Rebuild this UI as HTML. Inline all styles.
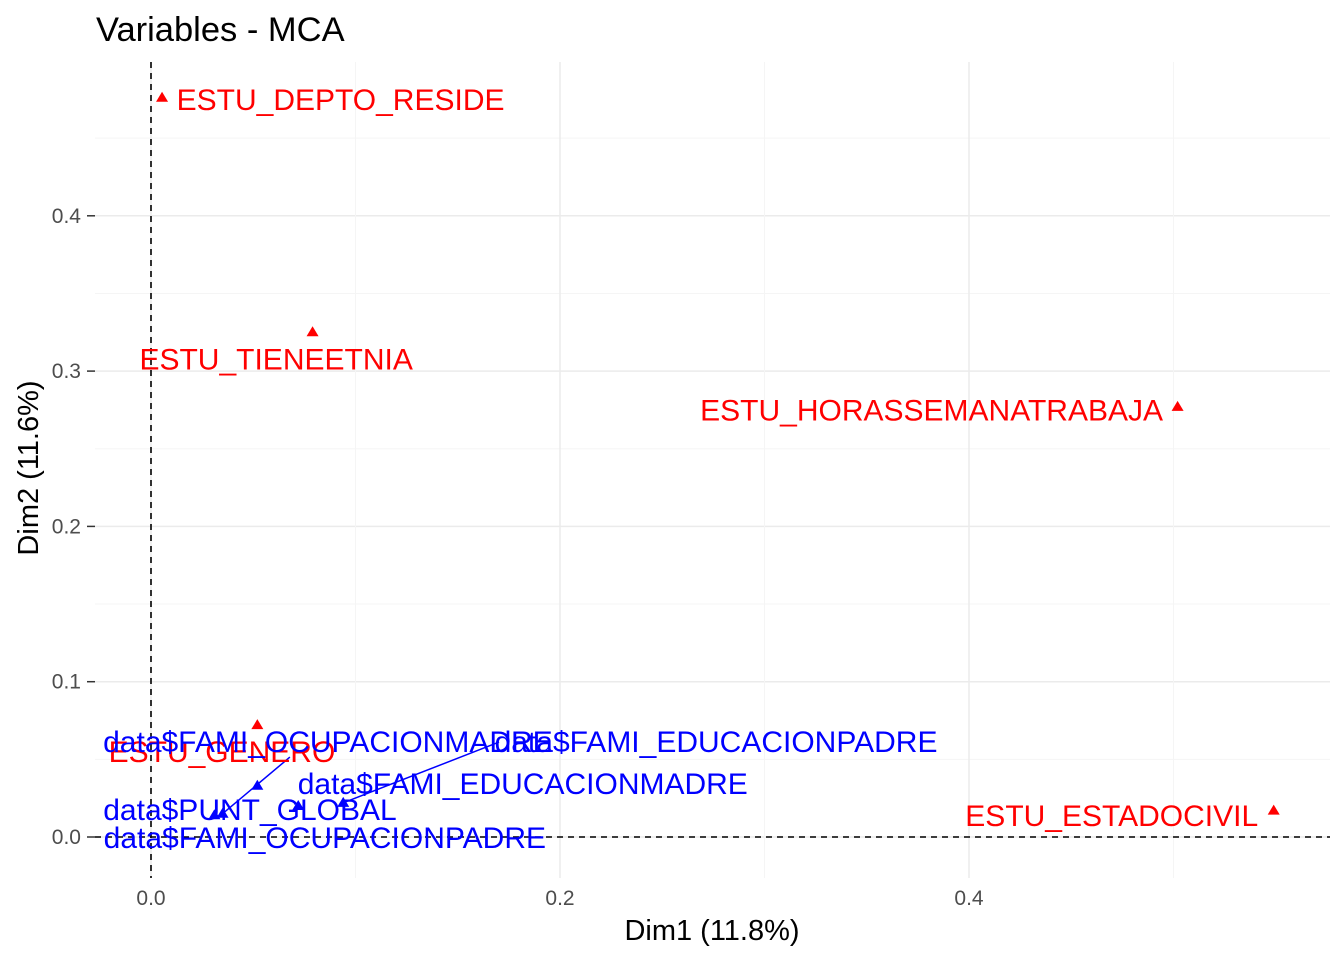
<!DOCTYPE html>
<html><head><meta charset="utf-8"><style>
body{margin:0;background:#fff;}
svg text{font-family:"Liberation Sans",Arial,sans-serif;}
</style></head><body>
<svg id="chart" width="1344" height="960" xmlns="http://www.w3.org/2000/svg">
<text x="96" y="41" font-size="34.5" fill="#000">Variables - MCA</text>
<g id="grid"></g>
<g id="marks"></g>
<text x="712" y="940" font-size="29" text-anchor="middle" fill="#000">Dim1 (11.8%)</text>
<text transform="translate(38,468) rotate(-90)" font-size="29" text-anchor="middle" fill="#000">Dim2 (11.6%)</text>
</svg>
<script>
const names=["ESTU_DEPTO_RESIDE","ESTU_TIENEETNIA","ESTU_HORASSEMANATRABAJA","ESTU_ESTADOCIVIL","ESTU_GENERO","data$FAMI_OCUPACIONMADRE","data$FAMI_EDUCACIONPADRE","data$FAMI_EDUCACIONMADRE","data$PUNT_GLOBAL","data$FAMI_OCUPACIONPADRE"];
const dim1=[0.0054,0.079,0.502,0.549,0.052,0.052,0.072,0.094,0.035,0.031];
const dim2=[0.476,0.325,0.277,0.017,0.072,0.033,0.020,0.022,0.015,0.014];
const groups=["sup","sup","sup","sup","sup","supq","supq","supq","supq","supq"];
// label positions (data units) after repel
const labX=[0.0927,0.0612,0.3817,0.4698,0.0347,0.0865,0.2763,0.1818,0.0484,0.0850];
const labY=[0.4745,0.3075,0.2746,0.0135,0.0547,0.0611,0.0611,0.0341,0.0173,-0.0007];
const xTicks=[0,0.2,0.4];
const yTicks=[0,0.1,0.2,0.3,0.4];
const X=v=>151+v*2045, Y=v=>837-v*1553;
const NS="http://www.w3.org/2000/svg";
function mk(tag,attrs,parent){const e=document.createElementNS(NS,tag);for(const k in attrs)e.setAttribute(k,attrs[k]);parent.appendChild(e);return e;}
const grid=document.getElementById('grid'),marks=document.getElementById('marks');
const L=95,R=1330,T=62,B=878;
for(let v=-0.05;v<=0.5;v+=0.05){const y=Y(v);if(y<T||y>B)continue;const major=Math.abs(Math.round(v*10)-v*10)<1e-6;
 const g=mk('line',{x1:L,x2:R,y1:y,y2:y,stroke:major?'#ebebeb':'#f5f5f5','stroke-width':major?1.5:1},grid);
 }
for(let v=-0.1;v<=0.6;v+=0.1){const x=X(v);if(x<L||x>R)continue;const major=Math.abs(Math.round(v*5)-v*5)<1e-6;
 const g=mk('line',{x1:x,x2:x,y1:T,y2:B,stroke:major?'#ebebeb':'#f5f5f5','stroke-width':major?1.5:1},grid);
 }
yTicks.forEach(v=>{
 const t=mk('text',{x:81,y:Y(v)+7,'font-size':21,'text-anchor':'end',fill:'#4d4d4d'},grid);t.textContent=v.toFixed(1);
 
 const k=mk('line',{x1:87,x2:95,y1:Y(v),y2:Y(v),stroke:'#333','stroke-width':1.5},grid);
 });
xTicks.forEach(v=>{
 const t=mk('text',{x:X(v),y:905,'font-size':21,'text-anchor':'middle',fill:'#4d4d4d'},grid);t.textContent=v.toFixed(1);
 });
let h=mk('line',{x1:L,x2:R,y1:Y(0),y2:Y(0),stroke:'#000','stroke-width':1.6,'stroke-dasharray':'6,5'},grid);

let vl=mk('line',{x1:X(0),x2:X(0),y1:T,y2:B,stroke:'#000','stroke-width':1.6,'stroke-dasharray':'6,5'},grid);

// connector segments
[[5,8,-38,15],[6,7,-217,0]].forEach(([i,j,dx,dy])=>{
 const s=mk('line',{x1:X(labX[i])+dx,y1:Y(labY[i])+dy,x2:X(dim1[j]),y2:Y(dim2[j]),stroke:'#0000ff','stroke-width':1.5},marks);
 });
names.forEach((n,i)=>{
 const c=groups[i]==='sup'?'#ff0000':'#0000ff';
 const x=X(dim1[i]),y=Y(dim2[i]);
 const p=mk('polygon',{points:`${x},${y-6} ${x-6},${y+4} ${x+6},${y+4}`,fill:c},marks);
 
 
 const t=mk('text',{x:X(labX[i]),y:Y(labY[i])+10,'font-size':30,'text-anchor':'middle',fill:c},marks);
 t.textContent=n;
 
 
});
</script>
</body></html>
